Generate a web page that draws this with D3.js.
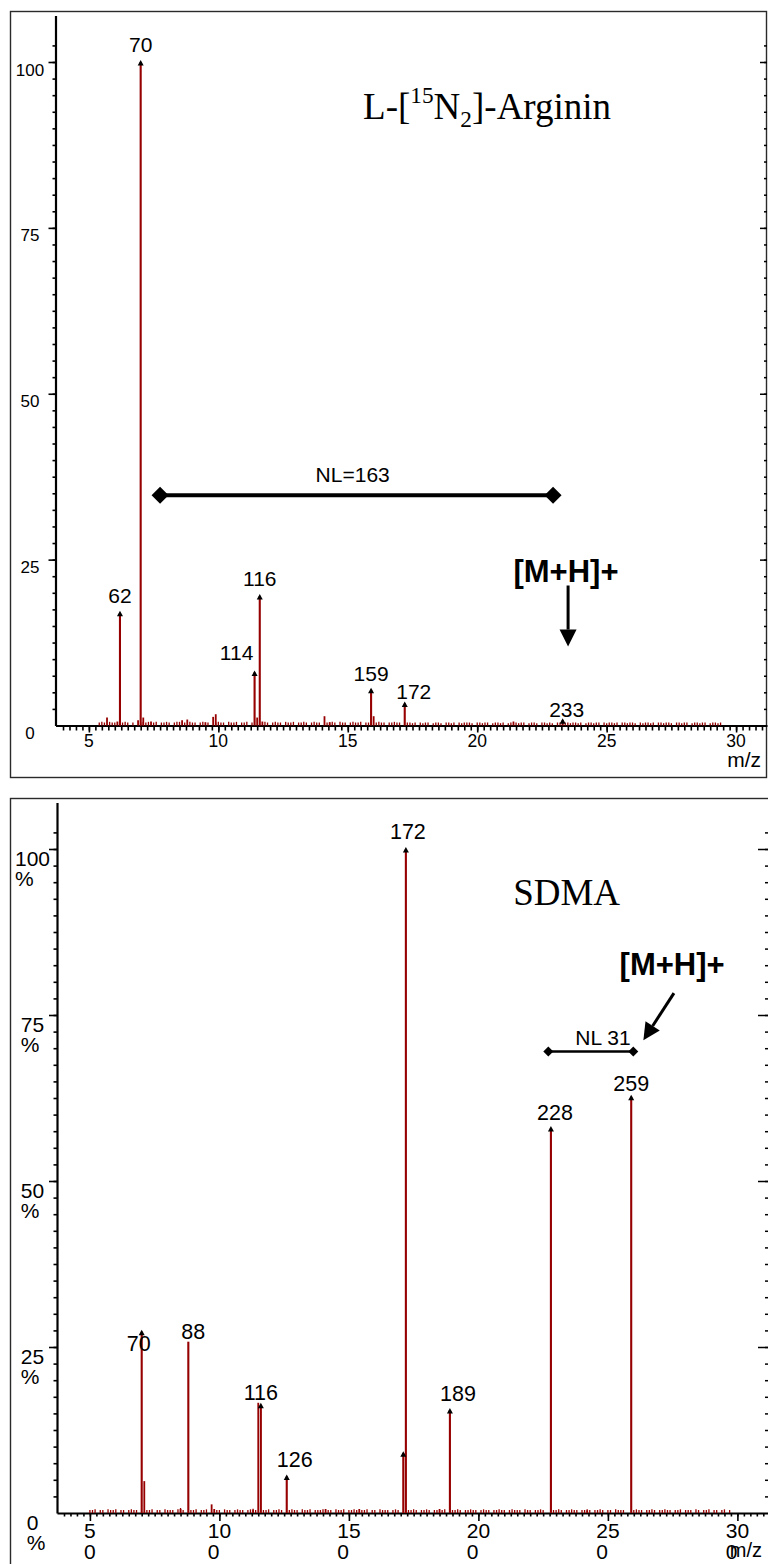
<!DOCTYPE html>
<html>
<head>
<meta charset="utf-8">
<script src="https://cdn.jsdelivr.net/npm/d3@7"></script>
<style>
  body { margin: 0; background: #fff; }
  svg { display: block; }
</style>
</head>
<body>
<svg id="chart" width="768" height="1564"></svg>
<script>
// ---------------- spectrum data ----------------
// L-[15N2]-Arginin product-ion spectrum (relative intensity, %)
const argMz      = [62, 70, 114, 116, 159, 172, 233];
const argInt     = [17, 100, 8.0, 19.5, 5.4, 3.3, 0.8];
const argLabels  = ["62", "70", "114", "116", "159", "172", "233"];
const argMinorMz  = [57, 61, 69, 71, 74, 86, 88, 95, 98, 99, 115, 117, 141, 143, 160, 214];
const argMinorInt = [1.2, 0.6, 0.8, 1.2, 0.6, 0.8, 0.9, 0.5, 1.3, 1.7, 1.2, 0.6, 1.4, 0.5, 1.4, 0.6];
// baseline noise, tenths of a percent, one value per nominal m/z starting at argNoiseStart
const argNoiseStart = 54;
const argNoise = [
  3,4,3,0,4,3,3,0,3,3,4,3,0,3,0,0,3,4,3,4,
  0,3,4,0,3,3,4,3,0,3,4,4,0,3,0,4,3,3,0,3,
  4,0,3,0,0,3,4,3,3,0,4,3,3,4,0,3,3,4,0,3,
  0,0,0,0,4,3,0,3,4,3,3,0,4,3,3,4,0,3,3,4,
  3,0,3,4,3,3,0,0,3,3,4,3,0,4,3,3,0,3,4,3,
  3,4,0,3,3,0,0,3,4,3,3,0,3,3,4,3,3,0,0,3,
  3,2,3,0,3,2,3,3,0,2,3,3,2,0,3,3,2,3,0,3,
  2,3,3,3,2,0,3,3,2,3,3,0,2,3,3,2,3,0,2,3,
  0,3,2,3,3,0,2,3,3,2,0,3,3,2,3,2,0,3,3,0,
  3,3,2,3,3,2,3,0,2,3,3,2,3,3,0,3,2,3,3,2,
  3,0,3,3,2,3,3,2,0,3,2,3,3,2,3,0,3,3,2,3,
  3,2,0,3,3,2,3,3,0,2,3,3,2,3,3,0,2,3,3,2,
  3
];

// SDMA product-ion spectrum (relative intensity, %)
const sdmaMz     = [70, 88, 116, 126, 171, 172, 189, 228, 259];
const sdmaInt    = [27.3, 25.8, 16.3, 5.5, 9.0, 100, 15.5, 58, 62.7];
const sdmaLabels = ["70", "88", "116", "126", "", "172", "189", "228", "259"];
const sdmaMinorMz  = [71, 85, 97, 98, 113, 115, 141, 154, 185, 242];
const sdmaMinorInt = [4.8, 0.6, 1.3, 0.6, 0.5, 16.6, 0.6, 0.6, 0.6, 0.4];
const sdmaNoiseStart = 50;
const sdmaNoise = [
  3,3,4,0,3,3,0,4,3,3,4,0,3,3,0,3,4,3,3,0,
  0,0,3,3,4,0,3,3,0,4,3,3,3,0,4,6,3,0,0,3,
  3,4,0,3,3,4,0,0,0,3,3,0,4,3,3,0,3,4,3,3,
  0,3,4,5,3,0,0,3,3,4,0,3,3,4,3,0,0,3,4,3,
  3,0,4,3,3,4,0,3,3,3,4,0,3,3,0,4,3,3,4,0,
  3,3,4,3,0,3,3,4,0,3,3,0,4,3,3,3,0,3,4,3,
  0,0,0,3,3,4,3,0,3,3,4,3,0,3,3,0,3,4,0,0,
  3,3,4,3,0,3,3,4,3,3,0,3,4,3,3,0,3,3,4,3,
  3,0,3,4,3,3,3,0,4,3,3,0,3,3,4,3,0,0,0,3,
  3,4,3,0,3,3,4,3,3,0,3,3,4,3,0,3,3,4,3,0,
  3,3,0,4,3,3,3,0,0,0,3,4,3,3,0,3,3,4,3,0,
  3,3,4,3,3,0,3,3,4,0,3,3,3,0,4,3,0,3,3,4,
  0,3,3,0,3,4,0,3
];

// axis tick values and labels
const yMajorTicks = [25, 50, 75, 100];
const yTickLabels = ["0", "25", "50", "75", "100"];
const yLabelValues = [0, 25, 50, 75, 100];
const xMajorMz = [50, 100, 150, 200, 250, 300];
const argXTickLabels  = ["5", "10", "15", "20", "25", "30"];
const sdmaXTickLabels = [["5","0"], ["10","0"], ["15","0"], ["20","0"], ["25","0"], ["30","0"]];

// ---------------- styling / layout ----------------
const SANS  = "'Liberation Sans', Arial, Helvetica, sans-serif";
const SERIF = "'Liberation Serif', 'Times New Roman', Times, serif";
const PEAK  = "#960000";
const svg = d3.select("#chart");

const panels = [
  {
    frame: {x: 10.5, y: 11.5, w: 756, h: 766},
    xAnchor: [88.9, 736.1], xLeft: 55.5, xRight: 767,
    yAnchor: [725.5, 62], yMax: 107,
    rightAxisX: 767, rightMajor: 7, rightMinor: 3,
    leftMajor: 7, leftMinor: 3, xMajorLen: 7, xMinorLen: 5,
    mz: argMz, int: argInt, labels: argLabels,
    minorMz: argMinorMz, minorInt: argMinorInt,
    noiseStart: argNoiseStart, noise: argNoise,
    noArrow: [],
    labelFont: 21,
    nudge: {"62": [0, 10], "70": [0, 10], "114": [-18, 12], "116": [0, 10],
            "159": [0, 9], "172": [9, 5], "233": [4, 3.5]},
    percentLabels: false,
    title: {parts: [["L-[", 0], ["15", 1], ["N", 0], ["2", -1], ["]-Arginin", 0]], mz: 203.8, v: 91.4, anchor: "middle", size: 37},
    nl: {from: 77.5, to: 229.3, v: 34.7, text: "NL=163", textMz: 151.9, gap: 13, width: 4, d: 8.5},
    mh: {textMz: 234.3, textV: 21.6, from: [235.1, 21.1], to: [235.1, 11.9]}
  },
  {
    frame: {x: 10.5, y: 798.5, w: 800, h: 800},
    xAnchor: [89.9, 737.4], xLeft: 57, xRight: 769,
    yAnchor: [1513, 849], yMax: 107,
    rightAxisX: 769, rightMajor: 11, rightMinor: 4,
    leftMajor: 8, leftMinor: 3.5, xMajorLen: 8, xMinorLen: 3.5,
    mz: sdmaMz, int: sdmaInt, labels: sdmaLabels,
    minorMz: sdmaMinorMz, minorInt: sdmaMinorInt,
    noiseStart: sdmaNoiseStart, noise: sdmaNoise,
    noArrow: ["88"],
    labelFont: 21.5,
    nudge: {"70": [-3, -19], "88": [5, 2.5], "116": [0, 5], "126": [8, 9],
            "172": [2, 10], "189": [8, 9], "228": [4, 8], "259": [0, 5.5]},
    percentLabels: true,
    title: {parts: [["SDMA", 0]], mz: 254.7, v: 91.6, anchor: "end", size: 37},
    nl: {from: 227, to: 259.8, v: 69.5, text: "NL 31", textMz: 248.1, gap: 7, width: 2.5, d: 5},
    mh: {textMz: 274.8, textV: 81, from: [275.5, 78.3], to: [263.7, 71.2]}
  }
];

function arrowHead(g, x1, y1, x2, y2, len, half) {
  const a = Math.atan2(y2 - y1, x2 - x1);
  const bx = x2 - len * Math.cos(a), by = y2 - len * Math.sin(a);
  const px = -Math.sin(a) * half, py = Math.cos(a) * half;
  g.append("path")
    .attr("d", `M${x2},${y2}L${bx + px},${by + py}L${bx - px},${by - py}Z`)
    .attr("fill", "#000");
  return [bx, by];
}

panels.forEach((p, pi) => {
  const g = svg.append("g");

  // scales: anchored at m/z 50..300 and 0..100 %, then extended over the full axes
  const x0 = d3.scaleLinear().domain([50, 300]).range(p.xAnchor);
  const x = d3.scaleLinear().domain([x0.invert(p.xLeft), x0.invert(p.xRight)]).range([p.xLeft, p.xRight]);
  const y0 = d3.scaleLinear().domain([0, 100]).range(p.yAnchor);
  const y = d3.scaleLinear().domain([0, p.yMax]).range([p.yAnchor[0], y0(p.yMax)]);

  // frame
  g.append("rect")
    .attr("x", p.frame.x).attr("y", p.frame.y)
    .attr("width", p.frame.w).attr("height", p.frame.h)
    .attr("fill", "none").attr("stroke", "#2a2a2a").attr("stroke-width", 1.4);

  // y axis (left)
  const minorY = d3.range(2.5, 103, 2.5);
  const leftMinor = g.append("g").attr("transform", `translate(${p.xLeft},0)`)
    .call(d3.axisLeft(y).tickValues(minorY).tickSize(p.leftMinor).tickSizeOuter(0).tickFormat(""));
  const leftMajor = g.append("g").attr("transform", `translate(${p.xLeft},0)`)
    .call(d3.axisLeft(y).tickValues(yMajorTicks).tickSize(p.leftMajor).tickSizeOuter(0).tickFormat(""));
  leftMajor.select(".domain").remove();
  [leftMinor, leftMajor].forEach(a => {
    a.selectAll("line").attr("stroke", "#000").attr("stroke-width", 1.6);
    a.select(".domain").attr("stroke", "#000").attr("stroke-width", 2.2);
  });

  // y axis (right, ticks pointing inward)
  [[minorY, p.rightMinor], [yMajorTicks, p.rightMajor]].forEach(([vals, len]) => {
    const a = g.append("g").attr("transform", `translate(${p.rightAxisX},0)`)
      .call(d3.axisRight(y).tickValues(vals).tickSize(-len).tickSizeOuter(0).tickFormat(""));
    a.select(".domain").remove();
    a.selectAll("line").attr("stroke", "#000").attr("stroke-width", 1.5);
  });

  // x axis
  const minorX = d3.range(40, 312.5, 2.5);
  const xMinorAxis = g.append("g").attr("transform", `translate(0,${y(0)})`)
    .call(d3.axisBottom(x).tickValues(minorX).tickSize(p.xMinorLen).tickSizeOuter(0).tickFormat(""));
  const xMajorAxis = g.append("g").attr("transform", `translate(0,${y(0)})`)
    .call(d3.axisBottom(x).tickValues(xMajorMz).tickSize(p.xMajorLen).tickSizeOuter(0).tickFormat(""));
  xMajorAxis.select(".domain").remove();
  [xMinorAxis, xMajorAxis].forEach(a => {
    a.selectAll("line").attr("stroke", "#000").attr("stroke-width", 1.6);
    a.select(".domain").attr("stroke", "#000").attr("stroke-width", 2.2);
  });

  // y tick labels
  yLabelValues.forEach((v, i) => {
    if (!p.percentLabels) {
      g.append("text").attr("x", 30).attr("y", y(v) + 13.5)
        .attr("text-anchor", "middle").attr("font-family", SANS).attr("font-size", 17)
        .text(yTickLabels[i]);
    } else {
      const t = g.append("text").attr("x", 32.5).attr("y", y(v) + 17)
        .attr("text-anchor", "middle").attr("font-family", SANS).attr("font-size", 21)
        .text(yTickLabels[i]);
      const w = t.node().getComputedTextLength();
      g.append("text").attr("x", 32.5 - w / 2).attr("y", y(v) + 37)
        .attr("font-family", SANS).attr("font-size", 21).text("%");
    }
  });

  // x tick labels
  xMajorMz.forEach((m, i) => {
    if (!p.percentLabels) {
      g.append("text").attr("x", x(m)).attr("y", y(0) + 21)
        .attr("text-anchor", "middle").attr("font-family", SANS).attr("font-size", 17.5)
        .text(argXTickLabels[i]);
    } else {
      const [l1, l2] = sdmaXTickLabels[i];
      const t = g.append("text").attr("x", x(m)).attr("y", y(0) + 25)
        .attr("text-anchor", "middle").attr("font-family", SANS).attr("font-size", 21)
        .text(l1);
      const w = t.node().getComputedTextLength();
      g.append("text").attr("x", x(m) - w / 2).attr("y", y(0) + 46)
        .attr("font-family", SANS).attr("font-size", 21).text(l2);
    }
  });

  // m/z axis title
  g.append("text")
    .attr("x", pi === 0 ? 761 : 762).attr("y", pi === 0 ? y(0) + 41.5 : y(0) + 43.5)
    .attr("text-anchor", "end").attr("font-family", SANS)
    .attr("font-size", pi === 0 ? 21 : 20).text("m/z");

  // baseline noise
  const noise = p.noise.map((h, i) => ({mz: p.noiseStart + i, v: h / 10})).filter(d => d.v > 0);
  g.append("g").selectAll("line").data(noise).join("line")
    .attr("x1", d => x(d.mz)).attr("x2", d => x(d.mz))
    .attr("y1", y(0)).attr("y2", d => y(d.v) - 1)
    .attr("stroke", PEAK).attr("stroke-width", 1.3);

  // unlabelled peaks
  const minor = p.minorMz.map((m, i) => ({mz: m, v: p.minorInt[i]}));
  g.append("g").selectAll("line").data(minor).join("line")
    .attr("x1", d => x(d.mz)).attr("x2", d => x(d.mz))
    .attr("y1", y(0)).attr("y2", d => y(d.v))
    .attr("stroke", PEAK).attr("stroke-width", 1.8);

  // main peaks
  const peaks = p.mz.map((m, i) => ({mz: m, v: p.int[i], label: p.labels[i]}));
  g.append("g").selectAll("line").data(peaks).join("line")
    .attr("x1", d => x(d.mz)).attr("x2", d => x(d.mz))
    .attr("y1", y(0)).attr("y2", d => y(d.v))
    .attr("stroke", PEAK).attr("stroke-width", 2.1);

  // small arrow heads marking peak apexes
  g.append("g").selectAll("path").data(peaks.filter(d => !p.noArrow.includes(d.label))).join("path")
    .attr("d", d => {
      const px = x(d.mz), py = y(d.v);
      return `M${px},${py - 2}L${px + 3},${py + 3.5}L${px - 3},${py + 3.5}Z`;
    })
    .attr("fill", "#000");

  // peak labels
  g.append("g").selectAll("text").data(peaks.filter(d => d.label)).join("text")
    .attr("x", d => x(d.mz) + (p.nudge[d.label] || [0, 10])[0])
    .attr("y", d => y(d.v) - (p.nudge[d.label] || [0, 10])[1])
    .attr("text-anchor", "middle").attr("font-family", SANS).attr("font-size", p.labelFont)
    .text(d => d.label);

  // compound title
  const tt = g.append("text")
    .attr("x", x(p.title.mz)).attr("y", y(p.title.v))
    .attr("text-anchor", p.title.anchor).attr("font-family", SERIF).attr("font-size", p.title.size);
  let prevKind = 0;
  p.title.parts.forEach(([s, kind]) => {
    const ts = tt.append("tspan").text(s);
    const shift = {"1": -16.5, "-1": 8, "0": 0};
    const dy = shift[kind] - shift[prevKind];
    if (dy) ts.attr("dy", dy);
    if (kind !== 0) ts.attr("font-size", p.title.size * 0.63);
    prevKind = kind;
  });

  // neutral-loss bar
  const nl = p.nl;
  g.append("line")
    .attr("x1", x(nl.from)).attr("x2", x(nl.to)).attr("y1", y(nl.v)).attr("y2", y(nl.v))
    .attr("stroke", "#000").attr("stroke-width", nl.width);
  [nl.from, nl.to].forEach(m => {
    const cx = x(m), cy = y(nl.v), d = nl.d;
    g.append("path").attr("d", `M${cx},${cy - d}L${cx + d},${cy}L${cx},${cy + d}L${cx - d},${cy}Z`)
      .attr("fill", "#000");
  });
  g.append("text").attr("x", x(nl.textMz)).attr("y", y(nl.v) - nl.gap)
    .attr("text-anchor", "middle").attr("font-family", SANS).attr("font-size", 21)
    .text(nl.text);

  // precursor ion marker
  const mh = p.mh;
  g.append("text").attr("x", x(mh.textMz)).attr("y", y(mh.textV))
    .attr("text-anchor", "middle").attr("font-family", SANS).attr("font-weight", "bold")
    .attr("font-size", 31).text("[M+H]+");
  const x1 = x(mh.from[0]), y1 = y(mh.from[1]), x2 = x(mh.to[0]), y2 = y(mh.to[1]);
  const [bx, by] = arrowHead(g, x1, y1, x2, y2, 17, 8.5);
  g.append("line").attr("x1", x1).attr("y1", y1).attr("x2", bx).attr("y2", by)
    .attr("stroke", "#000").attr("stroke-width", 3);
});
</script>
</body>
</html>
